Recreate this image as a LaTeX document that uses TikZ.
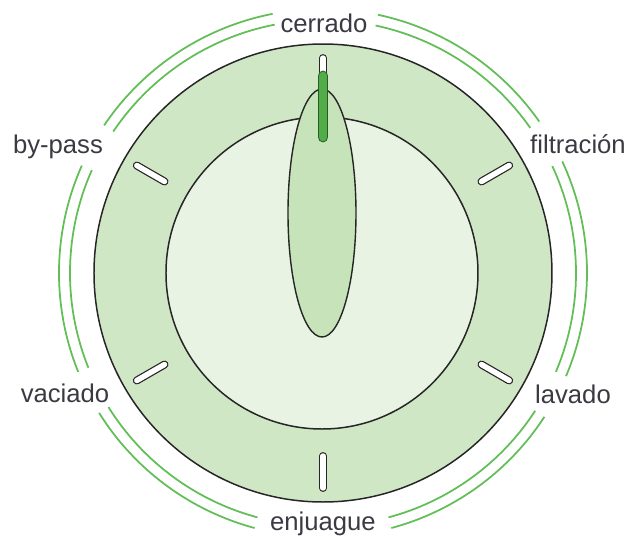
\documentclass[tikz,border=0pt]{standalone}
\usepackage{fontspec}
\setmainfont{Liberation Sans}
\usepackage{xcolor}
\usetikzlibrary{calc}
\definecolor{ringgreen}{RGB}{208,231,198}
\definecolor{dialgreen}{RGB}{233,243,227}
\definecolor{knobgreen}{RGB}{199,227,186}
\definecolor{pointergreen}{RGB}{82,172,72}
\definecolor{pointeredge}{RGB}{38,92,38}
\definecolor{arcgreen}{RGB}{98,190,86}
\definecolor{labelgray}{RGB}{58,58,66}

\begin{document}
\begin{tikzpicture}[x=0.02cm, y=0.02cm,
    slotmark/.style={line width=0.7pt, draw=black!85, double=white, double distance=3.1pt, line cap=round},
    pointerbar/.style={line width=0.6pt, draw=pointeredge, double=pointergreen, double distance=5pt, line cap=round},
    dialarc/.style={arcgreen, line width=1pt},
    dial label/.style={text=labelgray, font=\fontsize{14.6}{17}\selectfont, inner sep=0pt, anchor=base}]
        \useasboundingbox (-323,-262) rectangle (303,273);
        % outer ring
        \filldraw[fill=ringgreen, draw=black!85, line width=0.85pt] (0,0) circle (229);
        \foreach \t in {90,30,150,210,270,330}
            \draw[slotmark] (\t:183) -- (\t:215);
        % dial face and knob
        \filldraw[fill=dialgreen, draw=black!85, line width=0.85pt] (-1,0) circle (156);
        \filldraw[fill=knobgreen, draw=black!85, line width=0.8pt] (-1,60) ellipse (34 and 124);
        \draw[pointerbar] (0,136) -- (0,197);
        % green rims, broken at the labels
        \foreach \a/\b in {35/78,101/146,156/202,212/255,285/327,337/385} {
            \draw[dialarc] (\a:253) arc[start angle=\a, end angle=\b, radius=253];
            \draw[dialarc] (\a:264) arc[start angle=\a, end angle=\b, radius=264];
        }
        % positions
        \node[dial label] (cerrado) at (1,241) {cerrado};
        \node[dial label] (bypass) at (-265,120) {by-pass};
        \node[dial label] (filtracion) at (255,120) {filtración};
        \node[dial label] (vaciado) at (-258,-129) {vaciado};
        \node[dial label] (lavado) at (250,-130) {lavado};
        \node[dial label] (enjuague) at (0,-257) {enjuague};
      \end{tikzpicture}
\end{document}
